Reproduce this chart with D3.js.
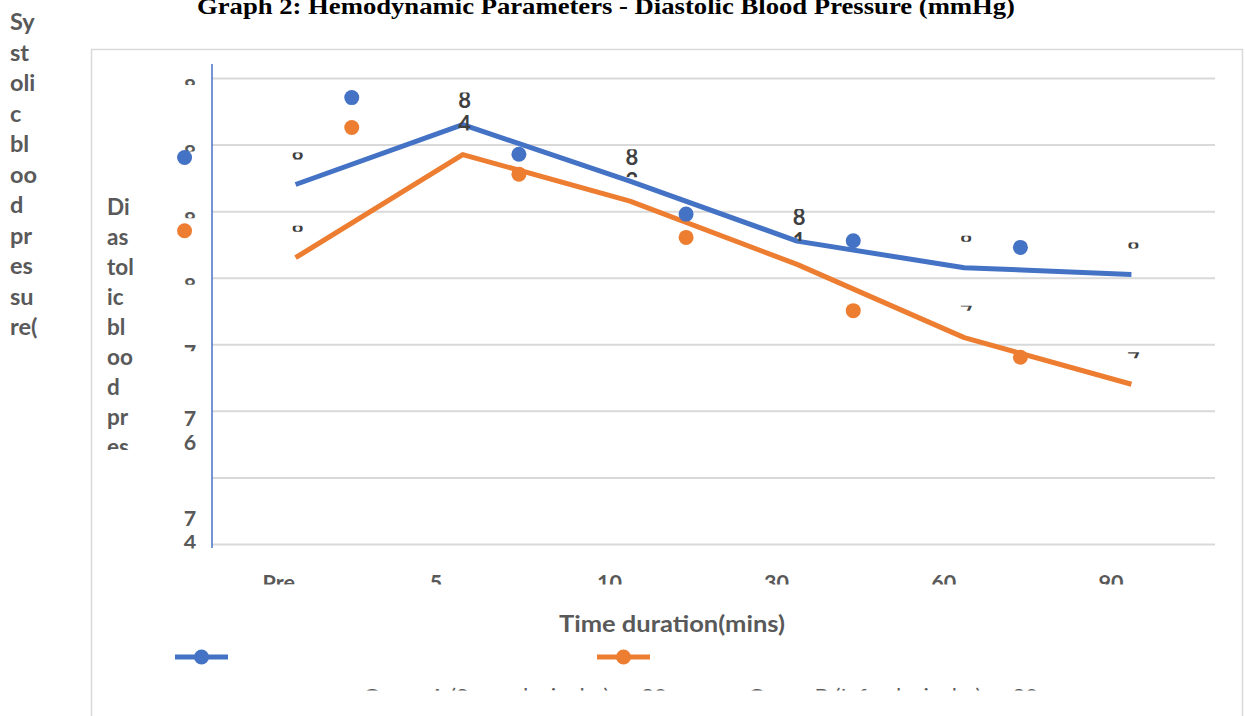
<!DOCTYPE html>
<html>
<head>
<meta charset="utf-8">
<script src="https://cdn.jsdelivr.net/npm/d3@7"></script>
<style>
  html, body { margin: 0; padding: 0; background: #fff; }
  svg { display: block; }
</style>
</head>
<body>
<svg id="chart" width="1245" height="716"></svg>
<script>
// ---- data ----
const categories = ["Pre", "5", "10", "30", "60", "90"];
const groupA = [82.8, 84.6, 82.9, 81.1, 80.3, 80.1];
const groupB = [80.6, 83.7, 82.3, 80.4, 78.2, 76.8];
const seriesNames = ["Group A (Supraclavicular) n=30", "Group B (Infraclavicular) n=30"];
const yTicks = [72, 74, 76, 78, 80, 82, 84, 86];
const titleText = "Graph 2: Hemodynamic Parameters - Diastolic Blood Pressure (mmHg)";
const xTitle = "Time duration(mins)";
const yTitleLines = ["Di", "as", "tol", "ic", "bl", "oo", "d", "pr", "es", "su", "re("];
const outerTitleLines = ["Sy", "st", "oli", "c", "bl", "oo", "d", "pr", "es", "su", "re("];

// ---- layout & style ----
const plot = { left: 212, right: 1215, top: 78, bottom: 544 };
const COLORS = ["#4472c4", "#ed7d31"];
const GRAY = "#595959";
const DARK = "#404040";
const GRID = "#d9d9d9";
const FONT = "Lato, 'Open Sans', sans-serif";
// how many pixels of each wrapped data label stay visible inside its box
const labelReveal = [[7, 38, 28, 32, 6, 6], [6, 0, 0, 0, 5, 6]];
// visible height and vertical shift of each wrapped y tick label
const tickReveal = [0, 38, 40, 7, 7, 7, 7, 7];
const tickShift = [0, 33, 0, 0, 0, 0, 0, 0];
const markerShift = { dx: -111, dy: -27 };
const LINE_STEP = 24;

const svg = d3.select("#chart");
const defs = svg.append("defs");
let clipCount = 0;
function clippedGroup(parent, x0, y0, w, h) {
  const id = "clip" + (clipCount++);
  defs.append("clipPath").attr("id", id)
    .append("rect").attr("x", x0).attr("y", y0).attr("width", w).attr("height", h);
  return parent.append("g").attr("clip-path", `url(#${id})`);
}
function stackText(parent, lines, x, baseline, step, opts) {
  const t = parent.append("text")
    .attr("font-family", FONT)
    .attr("font-size", opts.size)
    .attr("font-weight", opts.weight || "bold")
    .attr("fill", opts.color || GRAY)
    .attr("text-anchor", opts.anchor || "start");
  lines.forEach((s, i) => {
    t.append("tspan").attr("x", x).attr("y", baseline + i * step).text(s);
  });
  return t;
}
// keep only the wrapped lines that reach into the visible height
const visibleLines = (lines, h) => lines.filter((s, i) => i * LINE_STEP < h);

// ---- scales ----
const x = d3.scaleBand().domain(categories).range([plot.left, plot.right]);
const cx = c => x(c) + x.bandwidth() / 2;
const y = d3.scaleLinear().domain([72, 86]).range([plot.bottom, plot.top]);

// ---- chart frame ----
svg.append("rect")
  .attr("x", 91.5).attr("y", 49.5).attr("width", 1151).attr("height", 720)
  .attr("fill", "none").attr("stroke", GRID).attr("stroke-width", 1.5);

// ---- title ----
svg.append("text")
  .attr("x", 197).attr("y", 14)
  .attr("font-family", "'Liberation Serif', 'Times New Roman', serif")
  .attr("font-weight", "bold").attr("font-size", 24)
  .attr("textLength", 818).attr("lengthAdjust", "spacingAndGlyphs")
  .attr("fill", "#000")
  .text(titleText);

// ---- outer axis title ----
stackText(svg, outerTitleLines, 10, 30, 30.5, { size: 23.5 });

// ---- gridlines ----
svg.append("g")
  .attr("transform", `translate(${plot.left},0)`)
  .call(d3.axisLeft(y).tickValues(yTicks).tickSize(-(plot.right - plot.left)).tickFormat(""))
  .call(g => g.select(".domain").remove())
  .call(g => g.selectAll(".tick line").attr("stroke", GRID).attr("stroke-width", 2));

// ---- vertical axis line ----
svg.append("line")
  .attr("x1", plot.left).attr("x2", plot.left)
  .attr("y1", 64).attr("y2", 548)
  .attr("stroke", COLORS[0]).attr("stroke-width", 1.5);

// ---- inner y axis title (wrapped, clipped) ----
stackText(clippedGroup(svg, 95, 180, 100, 270), yTitleLines.slice(0, 9), 107, 215, 30, { size: 22.5 });

// ---- y tick labels (wrapped, clipped) ----
yTicks.forEach((v, i) => {
  if (!tickReveal[i]) return;
  const top = y(v) + tickShift[i];
  const g = clippedGroup(svg, 170, top, 40, tickReveal[i]);
  stackText(g, visibleLines(String(v).split(""), tickReveal[i]), 190, top + 15.5, LINE_STEP,
    { size: 21.5, anchor: "middle" });
});

// ---- x tick labels ----
const xAxisClip = clippedGroup(svg, plot.left - 100, 560, 1150, 24.5);
xAxisClip.append("g")
  .attr("transform", "translate(0,572)")
  .call(d3.axisBottom(x).tickSize(0).tickPadding(3))
  .call(g => g.select(".domain").remove())
  .call(g => g.selectAll("text")
    .attr("text-anchor", "start")
    .attr("x", -33)
    .attr("font-family", FONT).attr("font-size", 21.5)
    .attr("font-weight", "bold").attr("fill", GRAY));

// ---- x axis title ----
svg.append("text")
  .attr("x", 559).attr("y", 632)
  .attr("font-family", FONT).attr("font-weight", "bold").attr("font-size", 22.5)
  .attr("textLength", 226).attr("lengthAdjust", "spacingAndGlyphs")
  .attr("fill", GRAY)
  .text(xTitle);

// ---- series ----
const series = [groupA, groupB];
const line = d3.line()
  .x((d, i) => cx(categories[i]))
  .y(d => y(d));

series.forEach((vals, s) => {
  svg.append("path")
    .datum(vals)
    .attr("d", line)
    .attr("fill", "none")
    .attr("stroke", COLORS[s])
    .attr("stroke-width", 5)
    .attr("stroke-linejoin", "round");
});

series.forEach((vals, s) => {
  svg.append("g").selectAll("circle")
    .data(vals)
    .join("circle")
    .attr("cx", (d, i) => cx(categories[i]) + markerShift.dx)
    .attr("cy", d => y(d) + markerShift.dy)
    .attr("r", 7.5)
    .attr("fill", COLORS[s]);
});

// ---- data labels (wrapped one character per line, clipped) ----
series.forEach((vals, s) => {
  vals.forEach((v, i) => {
    const h = labelReveal[s][i];
    if (!h) return;
    const lx = cx(categories[i]) + 2;
    const top = y(v) - 32;
    const g = clippedGroup(svg, lx - 20, top, 40, h);
    stackText(g, visibleLines(v.toFixed(1).split(""), h), lx, top + 15.5, LINE_STEP,
      { size: 22, anchor: "middle", color: DARK });
  });
});

// ---- legend ----
const legendItems = [
  { x1: 175, x2: 228, tx: 363, tw: 304 },
  { x1: 597, x2: 650, tx: 748, tw: 290 }
];
const legendY = 657;
legendItems.forEach((it, s) => {
  svg.append("line")
    .attr("x1", it.x1).attr("x2", it.x2)
    .attr("y1", legendY).attr("y2", legendY)
    .attr("stroke", COLORS[s]).attr("stroke-width", 5);
  svg.append("circle")
    .attr("cx", (it.x1 + it.x2) / 2).attr("cy", legendY).attr("r", 7.5)
    .attr("fill", COLORS[s]);
  const g = clippedGroup(svg, it.tx - 10, 670, it.tw + 20, 20.5);
  g.append("text")
    .attr("x", it.tx).attr("y", 704)
    .attr("font-family", FONT).attr("font-size", 22)
    .attr("textLength", it.tw).attr("lengthAdjust", "spacingAndGlyphs")
    .attr("fill", GRAY)
    .text(seriesNames[s]);
});
</script>
</body>
</html>
